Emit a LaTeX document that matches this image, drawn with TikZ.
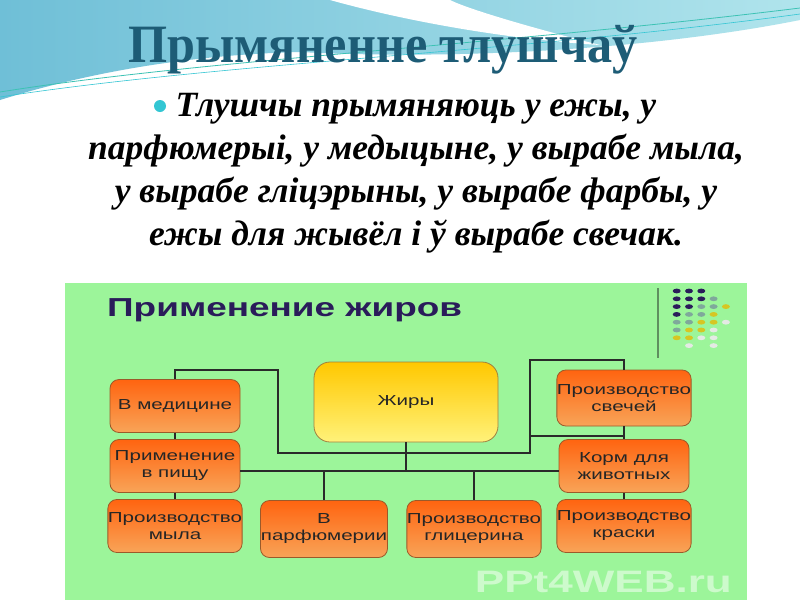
\documentclass[tikz,border=0pt]{standalone}
\usepackage{fontspec}
\setmainfont{Liberation Serif}
\newfontfamily\headfont[FakeStretch=0.93]{Liberation Serif}
\newfontfamily\diagfont[FakeStretch=1.42]{Liberation Sans}
\definecolor{skyblue}{HTML}{6FBFD7}
\definecolor{skylight}{HTML}{B0E4EC}
\definecolor{swoosh}{HTML}{3CC2B4}
\definecolor{titlecol}{HTML}{1D5C76}
\definecolor{bulletcol}{HTML}{33C6D3}
\definecolor{panel}{HTML}{9CF59A}
\definecolor{navy}{HTML}{2A1C5A}
\definecolor{dteal}{HTML}{7FA89B}
\definecolor{dyellow}{HTML}{D6C623}
\definecolor{dgray}{HTML}{E4EAE4}
\definecolor{sepcol}{HTML}{5F8F5F}
\definecolor{orangetop}{HTML}{FF6410}
\definecolor{orangebot}{HTML}{F8A458}
\definecolor{boxline}{HTML}{9B5A2A}
\definecolor{yellowtop}{HTML}{FFC800}
\definecolor{yellowbot}{HTML}{FFF27A}
\definecolor{zhirline}{HTML}{A08040}
\definecolor{linkcol}{HTML}{2A2A2A}

\begin{document}
\begin{tikzpicture}[x=1pt,y=-1pt,
	box/.style={draw=boxline,line width=0.8pt,rounded corners=9pt,top color=orangetop,bottom color=orangebot,
		minimum width=130pt,minimum height=53pt,inner sep=0pt,align=center,text=black!85,
		font=\diagfont\fontsize{14.5}{17}\selectfont},
	link/.style={draw=linkcol,line width=1.6pt}]
	\fill[white] (0,0) rectangle (800,600);
	\useasboundingbox (0,0) rectangle (800,600);
	\shade[left color=skyblue,right color=skylight] (0,0) -- (800,0) -- (800,20)
		.. controls (650,50) and (450,60) .. (300,52) .. controls (180,55) and (80,75) .. (0,100) -- cycle;
	\fill[white] (330,0) .. controls (420,25) and (520,40) .. (600,45) .. controls (540,30) and (470,10) .. (450,0) -- cycle;
	\draw[swoosh,line width=0.8pt] (0,92) .. controls (200,60) and (500,45) .. (800,8);
	\draw[bulletcol,line width=0.6pt] (0,97) .. controls (220,63) and (520,52) .. (800,14);
	\node[anchor=base,inner sep=0pt,text=titlecol,font=\headfont\bfseries\fontsize{54}{54}\selectfont] (title) at (383,62) {Прымяненне тлушчаў};
	\fill[bulletcol] (160,106) circle (6pt);
	\node[anchor=north,inner sep=0pt,align=center,font=\bfseries\itshape\fontsize{35.5}{43}\selectfont] (uses) at (416,93)
		{Тлушчы прымяняюць у ежы, у\\парфюмерыі, у медыцыне, у вырабе мыла,\\у вырабе гліцэрыны, у вырабе фарбы, у\\ежы для жывёл і ў вырабе свечак.};
	\fill[panel] (65,283) rectangle (747,600);
	\node[anchor=base west,inner sep=0pt,text=navy,font=\diagfont\bfseries\fontsize{26}{26}\selectfont] (dtitle) at (107,316) {Применение жиров};
	\draw[sepcol,line width=1.5pt] (658,288) -- (658,358);
	\foreach \c/\r/\col in {1/1/navy,2/1/navy,3/1/navy,1/2/navy,2/2/navy,3/2/navy,4/2/dteal,
		1/3/navy,2/3/navy,3/3/dteal,4/3/dteal,5/3/dyellow,1/4/navy,2/4/dteal,3/4/dteal,4/4/dyellow,
		1/5/dteal,2/5/dteal,3/5/dyellow,4/5/dyellow,5/5/dgray,1/6/dteal,2/6/dyellow,3/6/dyellow,4/6/dgray,
		1/7/dyellow,2/7/dyellow,3/7/dgray,4/7/dgray,2/8/dgray,4/8/dgray}
		\fill[\col] ({676.7+(\c-1)*12.3},{291+(\r-1)*7.8}) ellipse [x radius=4pt,y radius=2.4pt];
	\node[anchor=base east,inner sep=0pt,text=white,text opacity=0.5,font=\diagfont\bfseries\fontsize{31}{31}\selectfont] (wm) at (732,592) {PPt4WEB.ru};
	\node[box,top color=yellowtop,bottom color=yellowbot,draw=zhirline,minimum width=184pt,minimum height=80pt,rounded corners=16pt] (zhiry) at (406,402) {Жиры};
	\node[box] (med) at (175,406) {В медицине};
	\node[box] (pishcha) at (175,466) {Применение\\в пищу};
	\node[box] (mylo) at (175,526) {Производство\\мыла};
	\node[box,minimum width=127pt,minimum height=57pt] (parf) at (324,529) {В\\парфюмерии};
	\node[box,minimum width=127pt,minimum height=57pt] (glic) at (474,529) {Производство\\глицерина};
	\node[box,minimum height=56pt] (svechi) at (624,398) {Производство\\свечей};
	\node[box] (korm) at (624,466) {Корм для\\животных};
	\node[box] (kraski) at (624,526) {Производство\\краски};
	\coordinate (lt) at (278,370);
	\coordinate (rb) at (530,453);
	\coordinate (rt) at (624,360);
	\coordinate (rm) at (530,436);
	\coordinate (hub) at (406,471);
	\draw[link] (med.north) |- (lt) |- (rb) |- (rt) -- (svechi.north);
	\draw[link] (rm) -| (korm.north);
	\draw[link] (med.south) -- (pishcha.north);
	\draw[link] (pishcha.south) -- (mylo.north);
	\draw[link] (svechi.south) -- (korm.north);
	\draw[link] (korm.south) -- (kraski.north);
	\draw[link] (zhiry.south) -- (hub);
	\draw[link] (pishcha.east |- hub) -- (korm.west |- hub);
	\draw[link] (parf.north |- hub) -- (parf.north);
	\draw[link] (glic.north |- hub) -- (glic.north);
\end{tikzpicture}
\end{document}
